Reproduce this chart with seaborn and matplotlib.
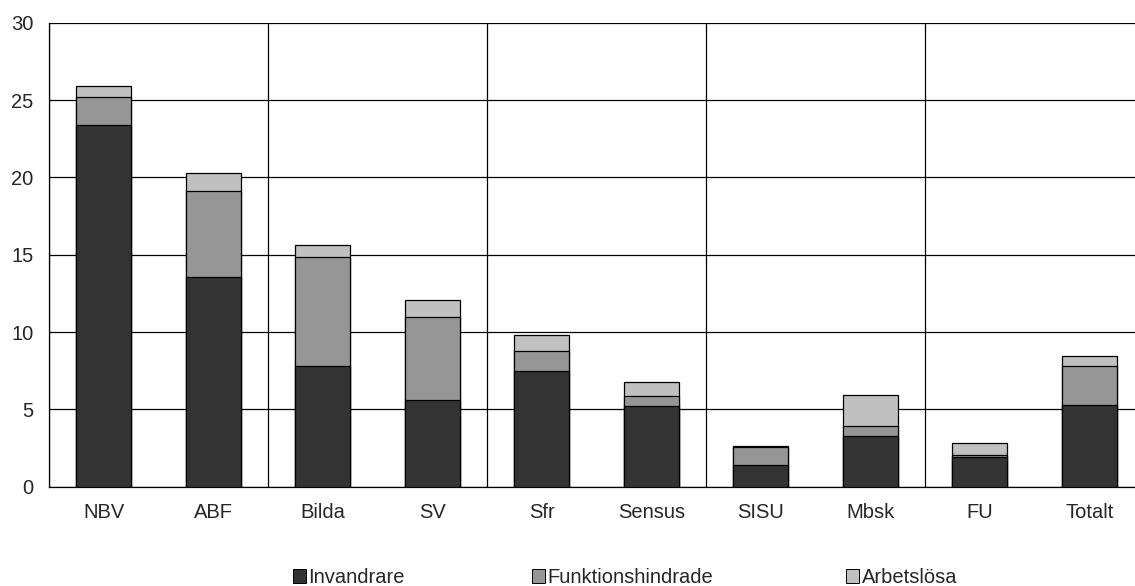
import matplotlib
matplotlib.use("Agg")
import matplotlib.pyplot as plt
import seaborn as sns
import pandas as pd
import numpy as np
from matplotlib.patches import Patch

categories = ["NBV", "ABF", "Bilda", "SV", "Sfr", "Sensus", "SISU", "Mbsk", "FU", "Totalt"]
invandrare = [23.4, 13.55, 7.8, 5.6, 7.45, 5.23, 1.38, 3.3, 1.9, 5.3]
funktionshindrade = [1.8, 5.6, 7.05, 5.4, 1.35, 0.65, 1.2, 0.6, 0.13, 2.5]
arbetslosa = [0.7, 1.1, 0.75, 1.1, 1.0, 0.88, 0.05, 2.0, 0.82, 0.62]
series_names = ["Invandrare", "Funktionshindrade", "Arbetslösa"]
colors = ["#333333", "#969696", "#c0c0c0"]
yticks = [0, 5, 10, 15, 20, 25, 30]

df = pd.DataFrame({
    "kategori": categories,
    "Invandrare": invandrare,
    "Funktionshindrade": funktionshindrade,
    "Arbetslösa": arbetslosa,
})
df["c1"] = df["Invandrare"]
df["c2"] = df["c1"] + df["Funktionshindrade"]
df["c3"] = df["c2"] + df["Arbetslösa"]

sns.set_style("white")
plt.rcParams["font.family"] = ["Liberation Sans", "DejaVu Sans"]
FS = 14.5

fig = plt.figure(figsize=(11.35, 5.86), dpi=100)
W, H = 1135, 586
ax = fig.add_axes([49 / W, (H - 486.7) / H, (1144 - 49) / W, (486.7 - 22.7) / H])

for col, c in zip(["c3", "c2", "c1"], colors[::-1]):
    sns.barplot(data=df, x="kategori", y=col, color=c, width=0.5,
                edgecolor="black", linewidth=0.9, saturation=1, ax=ax, zorder=3)

ax.set_xlim(-0.5, len(categories) - 0.5)
ax.set_ylim(0, 30)
ax.set_yticks(yticks)
ax.set_yticklabels([str(v) for v in yticks], fontsize=FS)
ax.set_xlabel("")
ax.set_ylabel("")
ax.tick_params(axis="x", which="major", length=0, pad=12, labelsize=FS)
ax.set_xticks(np.arange(-0.5, len(categories), 2), minor=True)
ax.tick_params(axis="x", which="minor", length=7, direction="out", color="black", width=0.9)
ax.tick_params(axis="y", which="major", length=7, direction="out", color="black", width=0.9, pad=4)
ax.grid(axis="y", which="major", color="black", linewidth=0.9)
ax.grid(axis="x", which="minor", color="black", linewidth=0.9)
ax.set_axisbelow(True)
for s in ["top", "right"]:
    ax.spines[s].set_visible(False)
for s in ["left", "bottom"]:
    ax.spines[s].set_color("black")
    ax.spines[s].set_linewidth(0.9)

xs = [293, 532, 846]
for name, c, xp in zip(series_names, colors, xs):
    fig.legend(handles=[Patch(facecolor=c, edgecolor="black", linewidth=0.7)], labels=[name],
               loc="center left", bbox_to_anchor=(xp / W, (H - 577.5) / H),
               frameon=False, fontsize=FS, handlelength=0.65, handleheight=0.65,
               handletextpad=0.12, borderpad=0, borderaxespad=0)

fig.savefig("out.png", dpi=100)
